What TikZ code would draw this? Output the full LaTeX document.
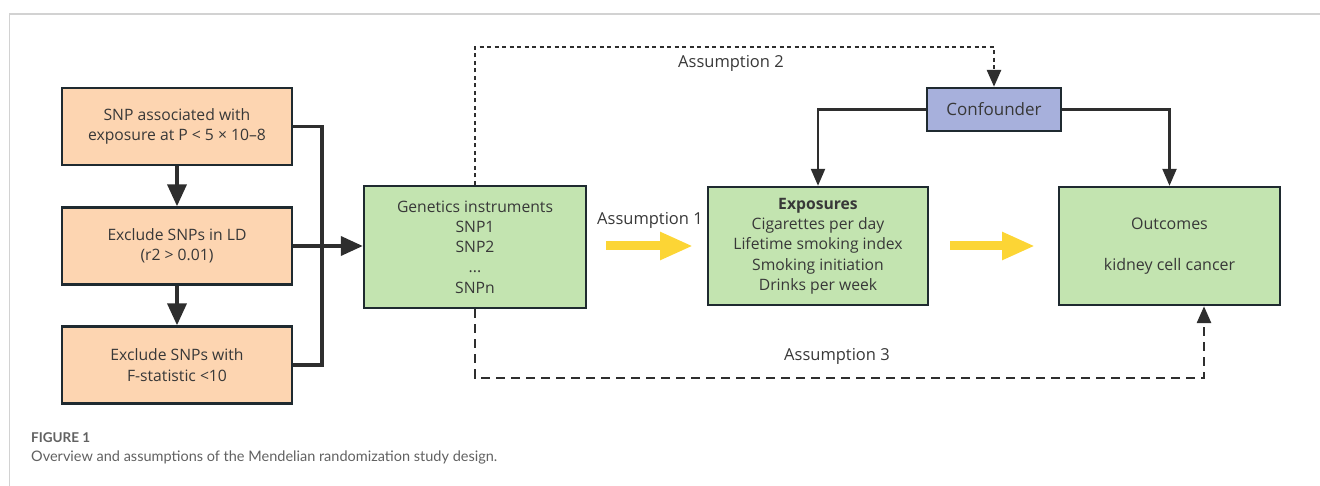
\documentclass[tikz,border=0pt]{standalone}
\usepackage{fontspec}
\setmainfont{Open Sans}
\newfontfamily\capfont{Lato}
\usetikzlibrary{arrows.meta}
\definecolor{edge}{HTML}{1F2A30}
\definecolor{ink}{HTML}{383838}
\definecolor{peach}{HTML}{FDD5B1}
\definecolor{leaf}{HTML}{C3E4B0}
\definecolor{lav}{HTML}{A7B0DC}
\definecolor{sun}{HTML}{FCD535}
\definecolor{cline}{HTML}{2E2E2E}
\definecolor{frame}{HTML}{D2D2D2}
\tikzset{
  box/.style={draw=edge, line width=2.4pt, align=center, text=ink, font=\fontsize{15.7}{20.3}\selectfont, inner sep=0pt},
  stepbox/.style={box, fill=peach, minimum width=230pt, minimum height=77pt},
  greenbox/.style={box, fill=leaf},
  heavy/.style={draw=cline, line width=3.8pt, -{Triangle[length=22pt,width=19pt]}},
  thin/.style={draw=cline, line width=2.3pt, -{Triangle[length=17pt,width=14pt]}},
  dotline/.style={draw=cline, line width=2.9pt, dash pattern=on 4pt off 3.5pt, -{Triangle[length=17pt,width=14pt]}},
  dashline/.style={draw=cline, line width=2.9pt, dash pattern=on 9pt off 6pt, -{Triangle[length=17pt,width=14pt]}},
  bigarrow/.style={draw=sun, line width=9pt, -{Triangle[length=33pt,width=26pt]}},
  lbl/.style={text=ink, font=\fontsize{16.5}{18}\selectfont, inner sep=0pt},
}
\begin{document}
\begin{tikzpicture}[x=1pt,y=-1pt]
\useasboundingbox (0,0) rectangle (1320,486);
% page frame (top and left edges visible)
\draw[frame, line width=1.4pt] (9.5,520) -- (9.5,14) -- (1340,14);

% selection steps
\node[stepbox] (s1) at (177,126.5) {SNP associated with\\exposure at P \textless{} 5 × 10–8};
\node[stepbox] (s2) at (177,246) {Exclude SNPs in LD\\(r2 \textgreater{} 0.01)};
\node[stepbox] (s3) at (177,365) {Exclude SNPs with\\F-statistic \textless{}10};

% main boxes
\node[greenbox, minimum width=222pt, minimum height=122pt] (gen) at (475,247)
  {Genetics instruments\\SNP1\\SNP2\\...\\SNPn};
\node[greenbox, minimum width=220pt, minimum height=118pt] (expo) at (818,246)
  {{\fontseries{sb}\selectfont Exposures}\\Cigarettes per day\\Lifetime smoking index\\Smoking initiation\\Drinks per week};
\node[greenbox, minimum width=221pt, minimum height=118pt, font=\fontsize{16}{20}\selectfont] (outc) at (1169.5,246)
  {Outcomes\\[21pt]kidney cell cancer};
\node[box, fill=lav, minimum width=134pt, minimum height=43pt, font=\fontsize{17}{20}\selectfont] (conf) at (994,109.5) {Confounder};

% step flow
\draw[heavy] (s1.south) -- (s2.north);
\draw[heavy] (s2.south) -- (s3.north);
\coordinate (bx) at (322,246);
\draw[cline, line width=3.8pt] (s1.east) -| (bx) |- (s3.east);
\draw[heavy] (s2.east) -- (gen.west |- s2.east);

% confounder links
\draw[thin] (conf.west) -| (expo.north);
\draw[thin] (conf.east) -| (outc.north);

% assumption 2
\coordinate (a2) at (994,47);
\draw[dotline] (gen.north) |- (a2) -- (conf.north);
\node[lbl] (l2) at (731,63) {Assumption 2};

% assumption 3
\coordinate (a3) at (1204,378);
\draw[dashline] (gen.south) |- (a3) -- (a3 |- outc.south);
\node[lbl] (l3) at (837,356) {Assumption 3};

% assumption 1 and causal arrows
\coordinate (y1s) at (606,246);
\coordinate (y1e) at (693,246);
\coordinate (y2s) at (950,246);
\coordinate (y2e) at (1035,246);
\draw[bigarrow] (y1s) -- (y1e);
\draw[bigarrow] (y2s) -- (y2e);
\node[lbl] (l1) at (650,220) {Assumption 1};

% caption
\node[anchor=west, inner sep=0pt, text=black!62, font=\capfont\bfseries\fontsize{13.5}{15}\selectfont] (fig) at (31,438) {FIGURE 1};
\node[anchor=west, inner sep=0pt, text=black!62, font=\capfont\fontsize{14.5}{17}\selectfont] (cap) at (31,457) {Overview and assumptions of the Mendelian randomization study design.};
\end{tikzpicture}
\end{document}
